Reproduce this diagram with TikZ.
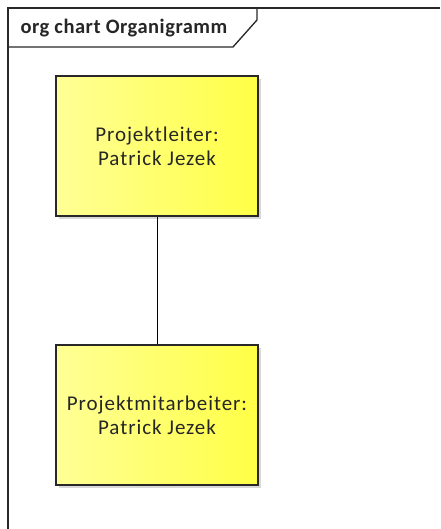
\documentclass[tikz,border=0pt]{standalone}
\usepackage{fontspec}
\setmainfont{Carlito}
\usetikzlibrary{shadows}
\definecolor{boxL}{RGB}{255,255,150}
\definecolor{boxR}{RGB}{255,255,70}
\definecolor{frameC}{RGB}{40,40,40}
\tikzset{
  rolebox/.style={draw=frameC, line width=1.2pt, left color=boxL, right color=boxR,
    minimum width=202pt, minimum height=140pt, align=center, inner sep=0pt,
    font=\fontsize{21}{24}\selectfont\addfontfeatures{LetterSpace=4.5}, text=black!85,
    drop shadow={shadow xshift=3pt, shadow yshift=-3pt, fill=black!25, opacity=0.6}},
  conn/.style={draw=black, line width=1pt},
  framel/.style={draw=frameC, line width=1.3pt}
}
\begin{document}
\begin{tikzpicture}[x=1pt,y=-1pt]
\useasboundingbox (0,0) rectangle (440,529);
\fill[white] (0,0) rectangle (440,529);
\draw[framel] (8,529) -- (8,8) -- (440,8);
\draw[framel] (8,47) -- (233,47) -- (257,20) -- (257,8);
\node[anchor=base west, font=\bfseries\fontsize{20.5}{24}\selectfont\addfontfeatures{LetterSpace=2.5}, text=black!85] (title) at (17,34) {org chart Organigramm};
\node[rolebox] (a) at (157,146) {Projektleiter:\\Patrick Jezek};
\node[rolebox] (b) at (157,415) {Projektmitarbeiter:\\Patrick Jezek};
\draw[conn] (a) -- (b);
\end{tikzpicture}
\end{document}
